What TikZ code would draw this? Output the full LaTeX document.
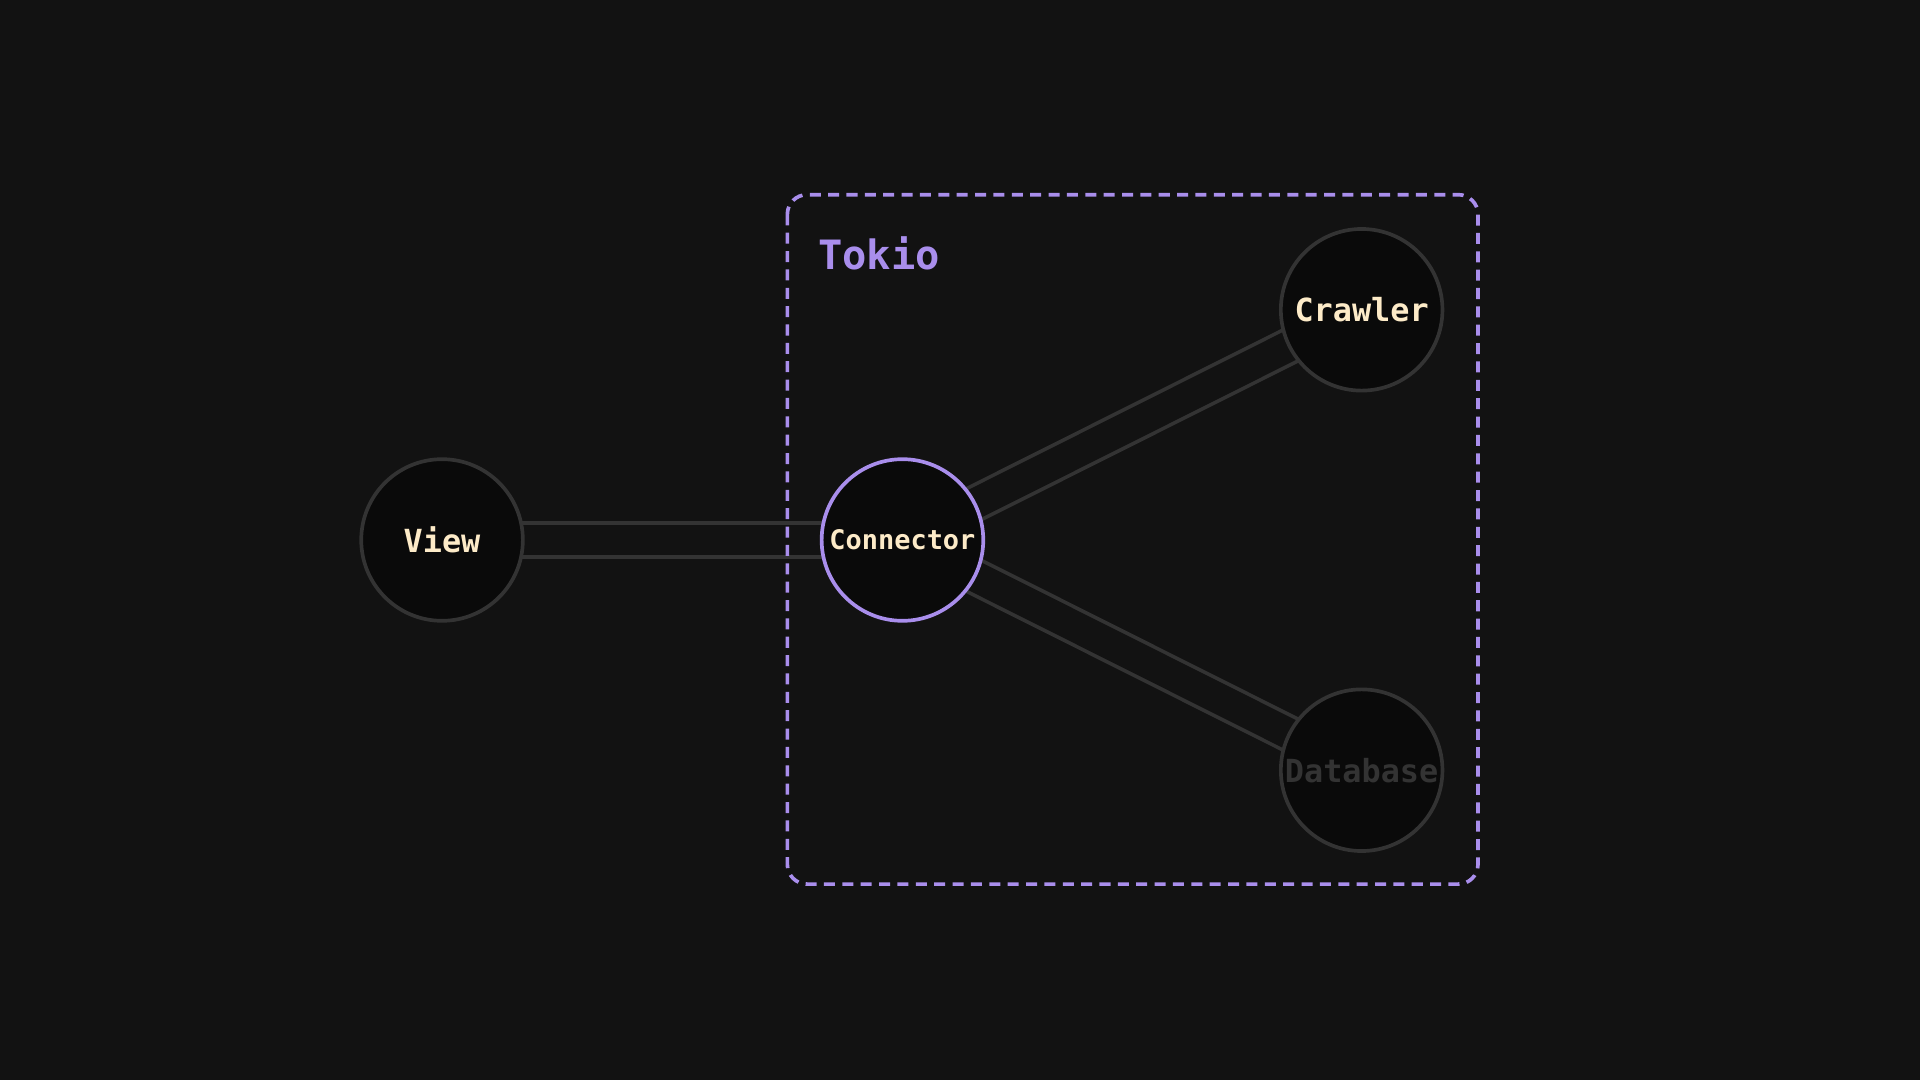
\documentclass[tikz,border=0pt]{standalone}
\usepackage{fontspec}
\setmonofont{DejaVu Sans Mono}
\definecolor{bg}{HTML}{121212}
\definecolor{nodefill}{HTML}{0A0A0A}
\definecolor{edge}{HTML}{333333}
\definecolor{purp}{HTML}{A98EEC}
\definecolor{cream}{HTML}{FDEBC8}
\tikzset{
  circ/.style={circle, minimum size=132pt, inner sep=0pt, fill=nodefill, draw=edge, line width=3pt, text=cream, font=\ttfamily\bfseries\fontsize{26}{26}\selectfont},
  link/.style={draw=edge, line width=3pt, double=bg, double distance=25pt},
}
\begin{document}
\begin{tikzpicture}[x=1pt,y=-1pt]
\fill[bg] (0,0) rectangle (1568,882);
\useasboundingbox (0,0) rectangle (1568,882);
\coordinate (v) at (361,441);
\coordinate (c) at (737,441);
\coordinate (cr) at (1112,253);
\coordinate (d) at (1112,629);
\draw[link] (v) -- (c);
\draw[link] (c) -- (cr);
\draw[link] (c) -- (d);
\node[circ] (view) at (v) {View};
\node[circ, draw=purp, font=\ttfamily\bfseries\fontsize{22}{22}\selectfont] (conn) at (c) {Connector};
\node[circ] (crawler) at (cr) {Crawler};
\node[circ, text=edge] (db) at (d) {Database};
\draw[purp, line width=3pt, dash pattern=on 9pt off 6pt, rounded corners=16pt] (643,159) rectangle (1207,722);
\node[anchor=west, text=purp, font=\ttfamily\bfseries\fontsize{33}{33}\selectfont, inner sep=0pt] (tokio) at (668,207) {Tokio};
\end{tikzpicture}
\end{document}
